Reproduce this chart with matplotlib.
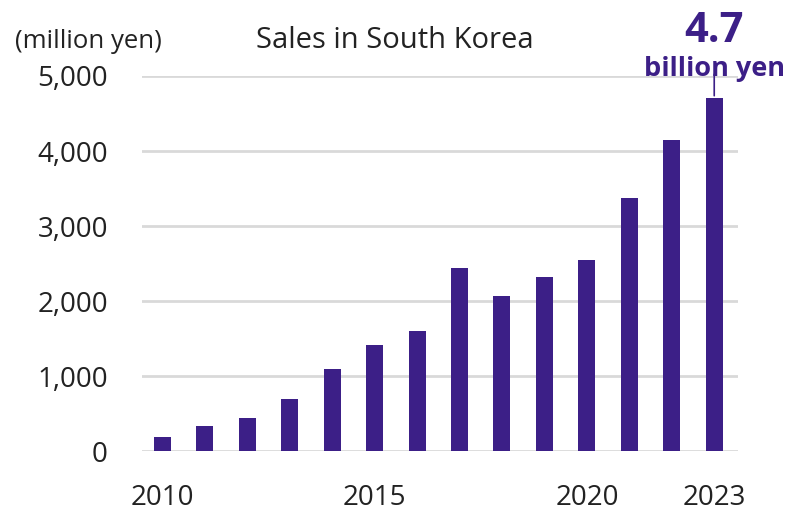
import matplotlib
matplotlib.use("Agg")
import matplotlib.pyplot as plt

years = [2010, 2011, 2012, 2013, 2014, 2015, 2016, 2017, 2018, 2019, 2020, 2021, 2022, 2023]
sales = [185, 338, 438, 698, 1090, 1415, 1605, 2445, 2065, 2325, 2545, 3375, 4150, 4700]
yticks = [0, 1000, 2000, 3000, 4000, 5000]
xtick_years = [2010, 2015, 2020, 2023]

purple = "#3c1f87"
plt.rcParams["font.family"] = ["Open Sans", "DejaVu Sans"]

fig = plt.figure(figsize=(7.89, 5.11), dpi=100)
ax = fig.add_axes([142 / 789, 60 / 511, (738 - 142) / 789, (451 - 76) / 511])

x = list(range(len(years)))
ax.bar(x, sales, width=0.4, color=purple, zorder=3)

ax.set_ylim(0, 5000)
ax.set_xlim(-0.48, len(years) - 1 + 0.56)
ax.set_yticks(yticks)
ax.set_yticklabels([f"{v:,}" for v in yticks])
ax.set_xticks([years.index(y) for y in xtick_years])
ax.set_xticklabels([str(y) for y in xtick_years])
ax.tick_params(axis="both", length=0, labelsize=20, colors="#222222")
ax.tick_params(axis="y", pad=24.5)
ax.tick_params(axis="x", pad=24)
ax.grid(axis="y", color="#d9d9d9", linewidth=2, zorder=0)
for s in ax.spines.values():
    s.set_visible(False)

fig.text(15 / 789, 1 - 41 / 511, "(million yen)", fontsize=18.5, color="#222222",
         ha="left", va="center")
fig.text(395 / 789, 1 - 41 / 511, "Sales in South Korea", fontsize=21, color="#222222",
         ha="center", va="center")

# Callout for the latest year
last = len(years) - 1
ax.annotate("", xy=(last, sales[-1]), xytext=(last, 5060),
            arrowprops=dict(arrowstyle="-", color=purple, lw=1.2),
            annotation_clip=False)
ax.text(last, 5600, f"{sales[-1] / 1000:.1f}", fontsize=30, fontweight="bold",
        color=purple, ha="center", va="center", clip_on=False)
ax.text(last, 5090, "billion yen", fontsize=19.5, fontweight="bold",
        color=purple, ha="center", va="center", clip_on=False)

fig.savefig("out.png", dpi=100)
